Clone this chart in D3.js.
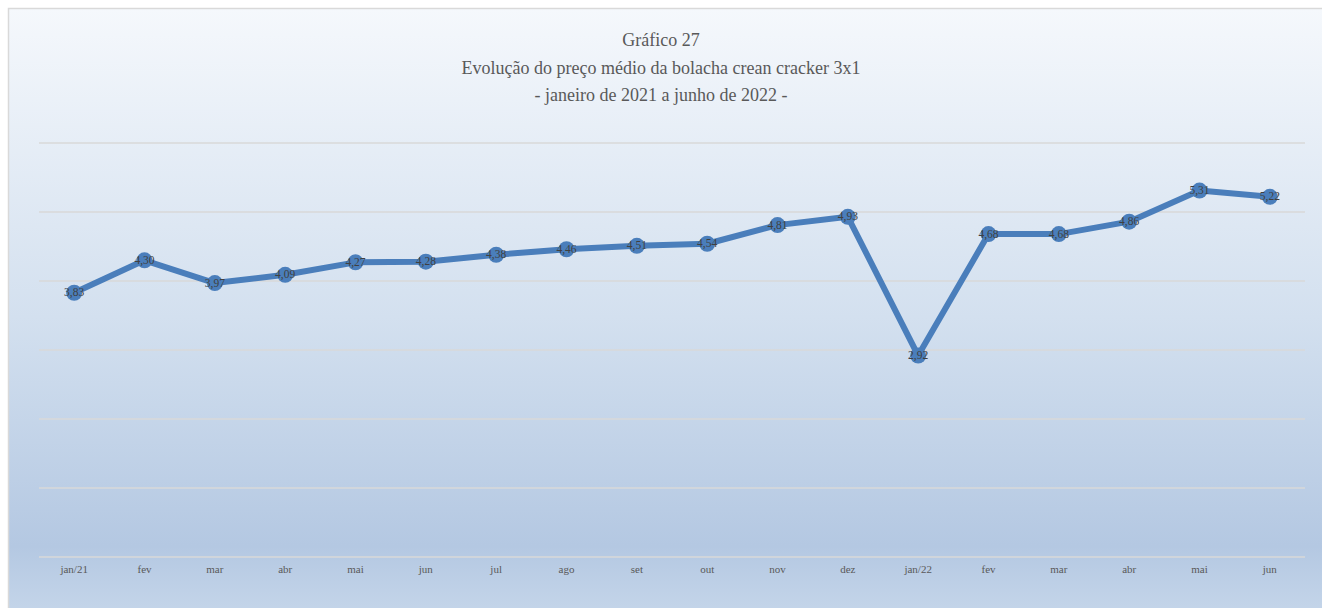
<!DOCTYPE html>
<html>
<head>
<meta charset="utf-8">
<script src="https://cdn.jsdelivr.net/npm/d3@7"></script>
<style>
html,body{margin:0;padding:0;background:#fff;}
svg{display:block;}
svg text{font-family:"Liberation Serif","Times New Roman",Times,serif;}
</style>
</head>
<body>
<svg id="chart" width="1322" height="608"></svg>
<script>
const categories = ["jan/21","fev","mar","abr","mai","jun","jul","ago","set","out","nov","dez","jan/22","fev","mar","abr","mai","jun"];
const values = [3.83,4.30,3.97,4.09,4.27,4.28,4.38,4.46,4.51,4.54,4.81,4.93,2.92,4.68,4.68,4.86,5.31,5.22];
const yTicks = [0,1,2,3,4,5,6];
const titleLines = ["Gráfico 27","Evolução do preço médio da bolacha crean cracker 3x1","- janeiro de 2021 a junho de 2022 -"];

const svg = d3.select("#chart");
const W = 1322, H = 608;

const defs = svg.append("defs");
const grad = defs.append("linearGradient").attr("id","bg").attr("x1",0).attr("y1",0).attr("x2",0).attr("y2",1);
grad.append("stop").attr("offset","0%").attr("stop-color","#f5f8fc");
grad.append("stop").attr("offset","50%").attr("stop-color","#d3e0ef");
grad.append("stop").attr("offset","87%").attr("stop-color","#b4c8e2");
grad.append("stop").attr("offset","100%").attr("stop-color","#c8d8eb");

svg.append("rect").attr("x",8.5).attr("y",8.5).attr("width",W+10).attr("height",H+10)
  .attr("fill","url(#bg)").attr("stroke","#d9d9d9").attr("stroke-width",1.5);

const x = d3.scaleBand().domain(d3.range(categories.length)).range([39,1305]);
const y = d3.scaleLinear().domain([0,6]).range([557,143]);

// gridlines
svg.append("g").selectAll("line").data(yTicks).join("line")
  .attr("x1",39).attr("x2",1305)
  .attr("y1",d=>y(d)).attr("y2",d=>y(d))
  .attr("stroke","#d9d9d9").attr("stroke-width",1.5);

// x axis labels
const xAxis = d3.axisBottom(x).tickSize(0).tickPadding(8).tickFormat(i=>categories[i]);
const gx = svg.append("g").attr("transform",`translate(0,${y(0)})`).call(xAxis);
gx.select(".domain").remove();
gx.selectAll("text").attr("font-family",null)
  .attr("font-size","11px").attr("fill","#595959");

// title
svg.append("g").selectAll("text").data(titleLines).join("text")
  .attr("x",661).attr("y",(d,i)=>46+i*27.5)
  .attr("text-anchor","middle")
  .attr("font-size","18px").attr("fill","#595959")
  .text(d=>d);

const cx = i => x(i)+x.bandwidth()/2;

const line = d3.line().x((d,i)=>cx(i)).y(d=>y(d));
svg.append("path").datum(values).attr("d",line)
  .attr("fill","none").attr("stroke","#4a7ebb").attr("stroke-width",6).attr("stroke-linejoin","round");

svg.append("g").selectAll("circle").data(values).join("circle")
  .attr("cx",(d,i)=>cx(i)).attr("cy",d=>y(d)).attr("r",8)
  .attr("fill","#4a7ebb");

svg.append("g").selectAll("text").data(values).join("text")
  .attr("x",(d,i)=>cx(i)).attr("y",d=>y(d)+3.5)
  .attr("text-anchor","middle")
  .attr("font-size","11.5px").attr("fill","#404040")
  .text(d=>d3.format(".2f")(d).replace(".",","));
</script>
</body>
</html>
